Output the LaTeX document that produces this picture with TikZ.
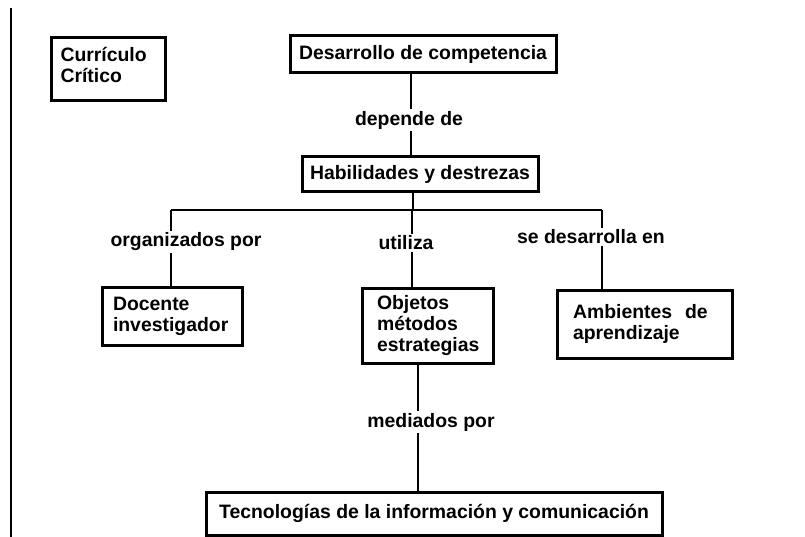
\documentclass[tikz,border=0pt]{standalone}
\usepackage{fontspec}
\setmainfont{Liberation Sans}
\begin{document}
\begin{tikzpicture}[x=1pt,y=-1pt,
  every node/.style={font=\fontsize{19.4}{21}\selectfont\bfseries, text=black},
  box/.style={draw, line width=3pt, rectangle, inner sep=0pt},
  conn/.style={line width=2.7pt},
  lbl/.style={fill=white, inner xsep=2pt, inner ysep=2pt}]
\useasboundingbox (0,0) rectangle (805,537);
\draw[line width=1.6pt] (11,8) -- (11,537);

% boxes
\node[box, anchor=north west, inner xsep=9pt, inner ysep=10pt] (cc) at (50,36)
  {\begin{minipage}[c][43pt][t]{96pt}\raggedright Currículo\\Crítico\end{minipage}};
\node[box, minimum width=266pt, minimum height=37pt] (dc) at (423,54.5) {Desarrollo de competencia};
\node[box, minimum width=236pt, minimum height=35pt] (hd) at (420,174.5) {Habilidades y destrezas};
\node[box, minimum height=58pt, inner xsep=11pt, text width=118pt, align=left] (doc) at (172,316) {Docente\\investigador};
\node[box, minimum height=75pt, inner xsep=15pt, text width=101pt, align=left] (obj) at (427.5,325.5) {Objetos\\métodos\\estrategias};
\node[box, minimum height=68pt, inner xsep=16pt, text width=143pt, align=left] (amb) at (644.5,324) {Ambientes~~de\\aprendizaje};
\node[box, minimum width=456pt, minimum height=43pt] (tic) at (434,513.5) {Tecnologías de la información y comunicación};

% junctions
\coordinate (ja) at (411,0);
\coordinate (jt) at (413,210);
\coordinate (jl) at (171,210);
\coordinate (jm) at (412,210);
\coordinate (jr) at (602,210);
\coordinate (jb) at (418,0);

% connectors
\draw[conn] (dc.south -| ja) -- (hd.north -| ja);
\draw[conn] (hd.south -| jt) -- (jt);
\draw[conn] (jl) -- (jr);
\draw[conn] (jl) -- (jl |- doc.north);
\draw[conn] (jm) -- (jm |- obj.north);
\draw[conn] (jr) -- (jr |- amb.north);
\draw[conn] (jb |- obj.south) -- (jb |- tic.north);

% labels
\node[lbl] (l1) at (409,120) {depende de};
\node[lbl] (l2) at (186,242) {organizados por};
\node[lbl] (l3) at (406,243) {utiliza};
\node[lbl] (l4) at (591,237) {se desarrolla en};
\node[lbl] (l5) at (431,422) {mediados por};
\end{tikzpicture}
\end{document}
